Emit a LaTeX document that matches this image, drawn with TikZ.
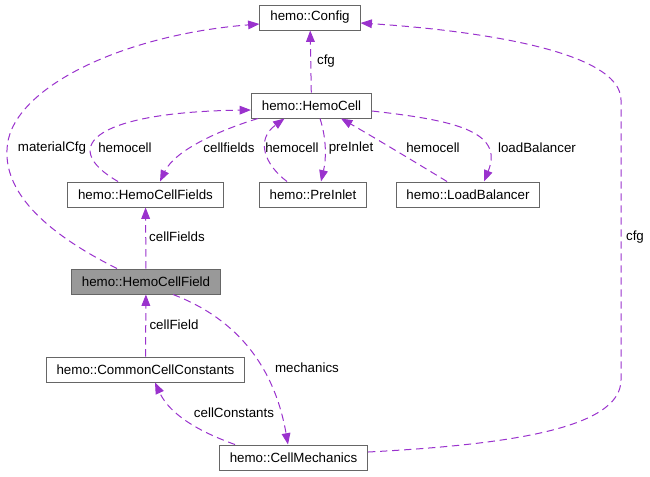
\documentclass[tikz,border=0pt]{standalone}
\usepackage{fontspec}
\setmainfont{Liberation Sans}
\usepackage{tikz}
\usetikzlibrary{arrows.meta,calc}
\definecolor{relpurple}{HTML}{9A32CD}
\definecolor{boxgray}{HTML}{666666}
\definecolor{focusgray}{HTML}{999999}
\tikzset{
    every node/.style={font=\fontsize{10}{12}\selectfont},
    classbox/.style={rectangle,draw=boxgray,line width=0.75pt,fill=white,inner xsep=7.8pt,inner ysep=0pt,minimum height=18.75pt},
    focusbox/.style={classbox,fill=focusgray},
    lbl/.style={inner sep=1pt},
    rel/.style={draw=relpurple,line width=0.75pt,dash pattern=on 5.5pt off 3.5pt,-{Triangle[length=8.5pt,width=6.5pt]}}
}
\begin{document}
\begin{tikzpicture}[x=0.75pt,y=-0.75pt]
\useasboundingbox (0,0) rectangle (650,476);
% classes
\node[classbox] (config) at (310,17.5) {hemo::Config};
\node[classbox] (hemocell) at (311.5,105.5) {hemo::HemoCell};
\node[classbox] (fields) at (145.5,194.5) {hemo::HemoCellFields};
\node[classbox] (preinlet) at (313,194.5) {hemo::PreInlet};
\node[classbox] (balancer) at (468,194.5) {hemo::LoadBalancer};
\node[focusbox] (field) at (146,281.5) {hemo::HemoCellField};
\node[classbox] (constants) at (145.5,369.5) {hemo::CommonCellConstants};
\node[classbox] (mechanics) at (293.5,457.5) {hemo::CellMechanics};
% relations
\draw[rel] (hemocell) -- (config);
\draw[rel] ($(field.north)+(-29,0)$) .. controls (40,230) and (5,190) .. (7,150)
    .. controls (8,90) and (120,35) .. ($(config.west)+(0,6.5)$);
\draw[rel] ($(mechanics.east)+(0,-5.5)$) .. controls (500,445) and (621,430) .. (621,380)
    -- (621,100) .. controls (621,50) and (470,30) .. ($(config.east)+(0,5.5)$);
\draw[rel] ($(fields.north)+(-27.5,0)$) .. controls (55,145) and (100,112) .. ($(hemocell.west)+(0,4.5)$);
\draw[rel] ($(hemocell.south west)+(7,0)$) .. controls (220,130) and (175,150) .. ($(fields.north)+(14.5,0)$);
\draw[rel] ($(preinlet.north)+(-26,0)$) .. controls (265,165) and (255,140) .. ($(hemocell.south)+(-27,0)$);
\draw[rel] ($(hemocell.south)+(8.5,0)$) .. controls (327,140) and (326,160) .. ($(preinlet.north)+(8,0)$);
\draw[rel] ($(balancer.north)+(-21,0)$) .. controls (420,165) and (370,135) .. ($(hemocell.south)+(29.5,0)$);
\draw[rel] ($(hemocell.east)+(0,5.5)$) .. controls (450,120) and (505,130) .. ($(balancer.north)+(16,0)$);
\draw[rel] (field) -- (fields);
\draw[rel] (constants) -- (field);
\draw[rel] ($(field.south)+(27,0)$) .. controls (240,320) and (275,370) .. ($(mechanics.north)+(-5.5,0)$);
\draw[rel] ($(mechanics.north)+(-58.5,0)$) .. controls (200,432) and (170,415) .. ($(constants.south)+(9.5,0)$);
% labels
\node[lbl] (lcfgtop) at (326,61) {cfg};
\node[lbl] (lmaterial) at (52,148) {materialCfg};
\node[lbl] (lcfgright) at (635,237) {cfg};
\node[lbl] (lhemoleft) at (125,148) {hemocell};
\node[lbl] (lcellfields) at (229,148) {cellfields};
\node[lbl] (lhemomid) at (292,148) {hemocell};
\node[lbl] (lpreinlet) at (351,148) {preInlet};
\node[lbl] (lhemoright) at (433,148) {hemocell};
\node[lbl] (lbalancer) at (537,148) {loadBalancer};
\node[lbl] (lfields) at (177,237) {cellFields};
\node[lbl] (lfield) at (174,325) {cellField};
\node[lbl] (lmechanics) at (307,368) {mechanics};
\node[lbl] (lconstants) at (234,413) {cellConstants};
\end{tikzpicture}
\end{document}
